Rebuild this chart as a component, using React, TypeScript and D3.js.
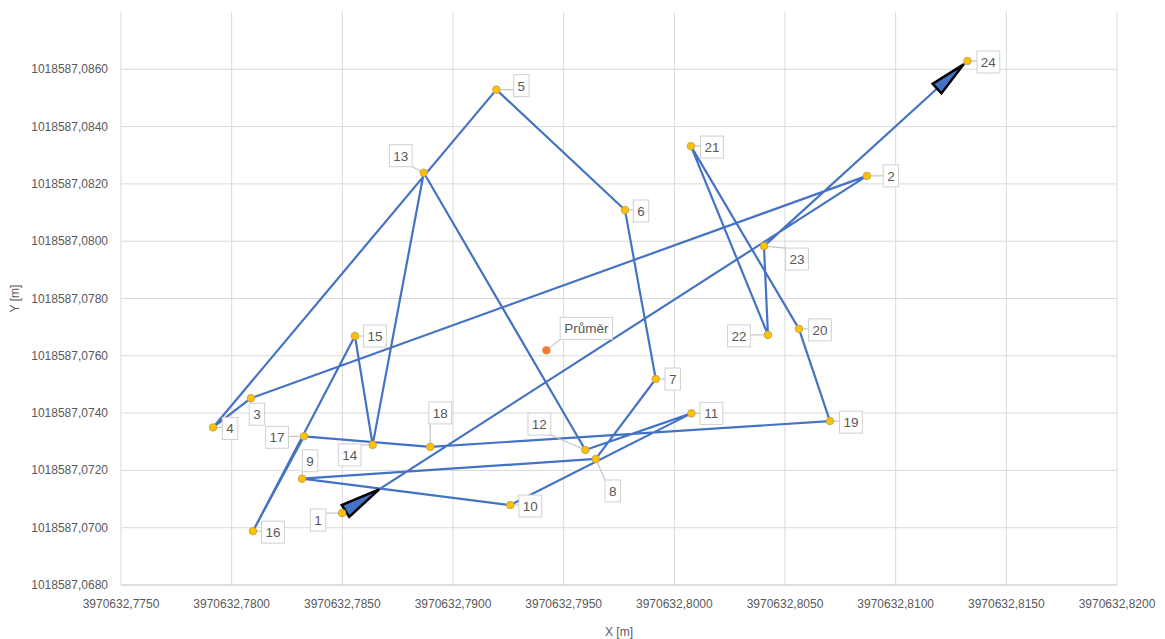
import * as d3 from 'd3';

// Measured points, in order of the traverse
const pointNames = [
  '1', '2', '3', '4', '5', '6', '7', '8', '9', '10', '11', '12',
  '13', '14', '15', '16', '17', '18', '19', '20', '21', '22', '23', '24',
];
const xValues = [
  3970632.78499, 3970632.80870, 3970632.78087, 3970632.77916, 3970632.79196, 3970632.79777,
  3970632.79916, 3970632.79645, 3970632.78318, 3970632.79259, 3970632.80077, 3970632.79598,
  3970632.78868, 3970632.78637, 3970632.78557, 3970632.78096, 3970632.78327, 3970632.78897,
  3970632.80703, 3970632.80563, 3970632.80075, 3970632.80423, 3970632.80405, 3970632.81324,
];
const yValues = [
  1018587.07051, 1018587.08228, 1018587.07452, 1018587.07350, 1018587.08529, 1018587.08109,
  1018587.07519, 1018587.07240, 1018587.07171, 1018587.07079, 1018587.07399, 1018587.07271,
  1018587.08239, 1018587.07289, 1018587.07669, 1018587.06988, 1018587.07319, 1018587.07282,
  1018587.07372, 1018587.07694, 1018587.08332, 1018587.07673, 1018587.07983, 1018587.08629,
];

// Mean point
const meanName = 'Průměr';
const meanX = 3970632.79422;
const meanY = 1018587.07619;

// Axis ticks
const xTicks = [
  3970632.775, 3970632.78, 3970632.785, 3970632.79, 3970632.795,
  3970632.8, 3970632.805, 3970632.81, 3970632.815, 3970632.82,
];
const yTicks = [
  1018587.068, 1018587.07, 1018587.072, 1018587.074, 1018587.076,
  1018587.078, 1018587.08, 1018587.082, 1018587.084, 1018587.086,
];

// label box offsets from each point (layout only)
const labelOffsets: [number, number][] = [
  [-24, 7], [24, 0], [6, 16], [17, 1], [25, -4], [16, 1], [17, 0], [17, 32],
  [8, -18], [20, 1], [20, 0], [-46, -26], [-23, -17], [-23, 10], [20, 0], [20, 1],
  [-27, 1], [10, -34], [21, 1], [21, 1], [21, 1], [-29, 1], [33, 13], [21, 1],
];
const meanOffset: [number, number] = [40, -22];

const W = 1165;
const H = 639;
const plot = { left: 121, right: 1117, top: 12, bottom: 585 };
const font = "'Liberation Sans', Arial, sans-serif";
const grey = '#595959';

const fmt = (v: number) => v.toFixed(4).replace('.', ',');

function Label({ px, py, text, off }: { px: number; py: number; text: string; off: [number, number] }) {
  const w = text.length * 7.4 + 8;
  const h = 22;
  const cx = px + off[0];
  const cy = py + off[1];
  const x0 = cx - w / 2;
  const y0 = cy - h / 2;
  // leader goes from the nearest edge of the box to the point
  const lx = Math.max(x0, Math.min(px, x0 + w));
  const ly = Math.max(y0, Math.min(py, y0 + h));
  return (
    <g>
      <line x1={lx} y1={ly} x2={px} y2={py} stroke="#c4c4c4" strokeWidth={1.2} />
      <rect x={x0} y={y0} width={w} height={h} fill="#fff" stroke="#d0d0d0" strokeWidth={1} />
      <text x={cx} y={cy + 5} textAnchor="middle" fontSize={13.5} fill={grey} fontFamily={font}>
        {text}
      </text>
    </g>
  );
}

function arrowHead(tip: [number, number], dir: [number, number], len: number, half: number) {
  const bx = tip[0] - dir[0] * len;
  const by = tip[1] - dir[1] * len;
  const nx = -dir[1];
  const ny = dir[0];
  return `M${tip[0]},${tip[1]}L${bx + nx * half},${by + ny * half}L${bx - nx * half},${by - ny * half}Z`;
}

export default function App() {
  const x = d3.scaleLinear().domain([xTicks[0], xTicks[xTicks.length - 1]]).range([plot.left, plot.right]);
  const y = d3.scaleLinear().domain([1018587.068, 1018587.088]).range([plot.bottom, plot.top]);

  const pts: [number, number][] = xValues.map((v, i) => [x(v), y(yValues[i])]);
  const path = d3.line()(pts) as string;

  const unit = (a: [number, number], b: [number, number]): [number, number] => {
    const dx = b[0] - a[0];
    const dy = b[1] - a[1];
    const l = Math.hypot(dx, dy);
    return [dx / l, dy / l];
  };
  // start arrow: base near point 1, pointing along the first leg
  const d0 = unit(pts[0], pts[1]);
  const startTip: [number, number] = [pts[0][0] + d0[0] * 44, pts[0][1] + d0[1] * 44];
  // end arrow: tip just before the last point
  const n = pts.length;
  const d1 = unit(pts[n - 2], pts[n - 1]);
  const endTip: [number, number] = [pts[n - 1][0] - d1[0] * 5, pts[n - 1][1] - d1[1] * 5];

  return (
    <svg width={W} height={H} style={{ position: 'fixed', left: 0, top: 0, background: '#fff' }}>
      {/* grid */}
      {yTicks.slice(1).map((t) => (
        <line key={'gy' + t} x1={plot.left} x2={plot.right} y1={y(t)} y2={y(t)} stroke="#d9d9d9" strokeWidth={1} />
      ))}
      {xTicks.map((t) => (
        <line key={'gx' + t} x1={x(t)} x2={x(t)} y1={plot.top} y2={plot.bottom} stroke="#d9d9d9" strokeWidth={1} />
      ))}
      <line x1={plot.left} x2={plot.right} y1={plot.bottom} y2={plot.bottom} stroke="#bfbfbf" strokeWidth={1} />

      {/* tick labels */}
      {yTicks.map((t) => (
        <text key={'ty' + t} x={108} y={y(t) + 4} textAnchor="end" fontSize={12} fill={grey} fontFamily={font}>
          {fmt(t)}
        </text>
      ))}
      {xTicks.map((t) => (
        <text key={'tx' + t} x={x(t)} y={608} textAnchor="middle" fontSize={12} fill={grey} fontFamily={font}>
          {fmt(t)}
        </text>
      ))}

      {/* axis titles */}
      <text x={(plot.left + plot.right) / 2} y={636} textAnchor="middle" fontSize={12} fill={grey} fontFamily={font}>
        X [m]
      </text>
      <text
        transform={`translate(19, ${(plot.top + plot.bottom) / 2}) rotate(-90)`}
        textAnchor="middle"
        fontSize={12}
        fill={grey}
        fontFamily={font}
      >
        Y [m]
      </text>

      {/* traverse */}
      <path d={path} fill="none" stroke="#4472c4" strokeWidth={2.2} strokeLinejoin="round" />
      <path d={arrowHead(startTip, d0, 40, 7)} fill="#4472c4" stroke="#000" strokeWidth={2.5} strokeLinejoin="miter" />
      <path d={arrowHead(endTip, d1, 36, 6.5)} fill="#4472c4" stroke="#000" strokeWidth={2.5} strokeLinejoin="miter" />

      {/* labels */}
      {pts.map((p, i) => (
        <Label key={'l' + i} px={p[0]} py={p[1]} text={pointNames[i]} off={labelOffsets[i]} />
      ))}
      <Label px={x(meanX)} py={y(meanY)} text={meanName} off={meanOffset} />

      {/* markers */}
      {pts.map((p, i) => (
        <circle key={'m' + i} cx={p[0]} cy={p[1]} r={3.8} fill="#ffc000" stroke="#b8a060" strokeWidth={0.8} />
      ))}
      <circle cx={x(meanX)} cy={y(meanY)} r={3.8} fill="#ed7d31" stroke="#ed7d31" strokeWidth={0.8} />
    </svg>
  );
}
